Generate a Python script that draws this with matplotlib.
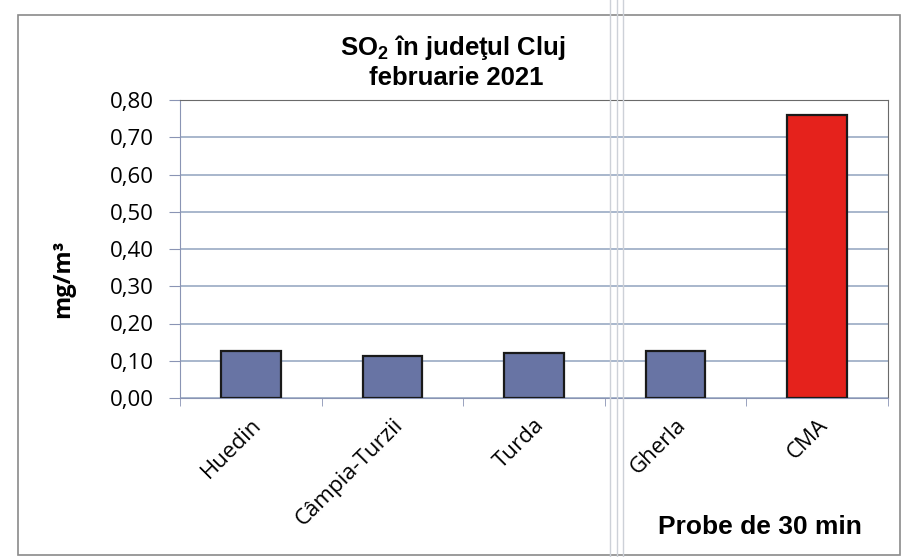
import matplotlib.pyplot as plt
from matplotlib.patches import Rectangle
import numpy as np

categories = ["Huedin", "Câmpia-Turzii", "Turda", "Gherla", "CMA"]
values = [0.125, 0.112, 0.120, 0.127, 0.760]
bar_colors = ["#6874a4", "#6874a4", "#6874a4", "#6874a4", "#e5221c"]
yticks = [0.0, 0.1, 0.2, 0.3, 0.4, 0.5, 0.6, 0.7, 0.8]

plt.rcParams["mathtext.fontset"] = "custom"
plt.rcParams["mathtext.rm"] = "Liberation Sans:bold"
plt.rcParams["mathtext.bf"] = "Liberation Sans:bold"

bold_font = ["Liberation Sans", "DejaVu Sans"]
body = ["Open Sans", "DejaVu Sans"]

fig = plt.figure(figsize=(9.04, 5.57), dpi=100)
ax = fig.add_axes([180 / 904, 1 - 398 / 557, 708 / 904, 298 / 557])

x = np.arange(len(categories))
ax.bar(x, values, width=0.42, color=bar_colors, edgecolor="#1a1a1a",
       linewidth=1.6, zorder=3)

ax.set_ylim(0, 0.8)
ax.set_xlim(-0.5, len(categories) - 0.5)
ax.set_yticks(yticks)
ax.set_yticklabels([f"{v:.2f}".replace(".", ",") for v in yticks],
                   fontsize=16, family=body)
ax.tick_params(axis="y", length=8, color="#8a94b4", pad=11)
ax.set_xticks(x)
ax.set_xticklabels(categories, rotation=45, ha="right", rotation_mode="anchor",
                   fontsize=16, family=body)
ax.tick_params(axis="x", length=0, pad=12)
ax.set_xticks(np.arange(len(categories) + 1) - 0.5, minor=True)
ax.tick_params(axis="x", which="minor", length=6, color="#8a94b4")
ax.grid(axis="y", color="#9aaac4", linewidth=1.2, zorder=0)

for side in ["top", "right"]:
    ax.spines[side].set_color("#6a6a6a")
ax.spines["left"].set_color("#8a94b4")
ax.spines["bottom"].set_color("#8a94b4")

fig.text(63 / 904, 1 - 279 / 557, "mg/m³", rotation=90, ha="center", va="center",
         fontsize=17, fontweight="bold", family=body)

fig.text(453 / 904, 1 - 48 / 557, r"SO$_2$ în judeţul Cluj", ha="center", va="center",
         fontsize=18.5, fontweight="bold", family=bold_font)
fig.text(456 / 904, 1 - 78 / 557, "februarie 2021", ha="center", va="center",
         fontsize=18.5, fontweight="bold", family=bold_font)
fig.text(760 / 904, 1 - 527 / 557, "Probe de 30 min", ha="center", va="center",
         fontsize=19, fontweight="bold", family=bold_font)

# outer chart frame and the scanner lines
fig.patches.append(Rectangle((18 / 904, 1 - 555 / 557), 882 / 904, 540 / 557,
                             transform=fig.transFigure, fill=False,
                             edgecolor="#8a8a8a", linewidth=1.2))
for xp in [610, 617, 623]:
    fig.add_artist(plt.Line2D([xp / 904, xp / 904], [0, 1], transform=fig.transFigure,
                              color="#cdd1d8", linewidth=1.0))

fig.savefig("out.png", dpi=100)
